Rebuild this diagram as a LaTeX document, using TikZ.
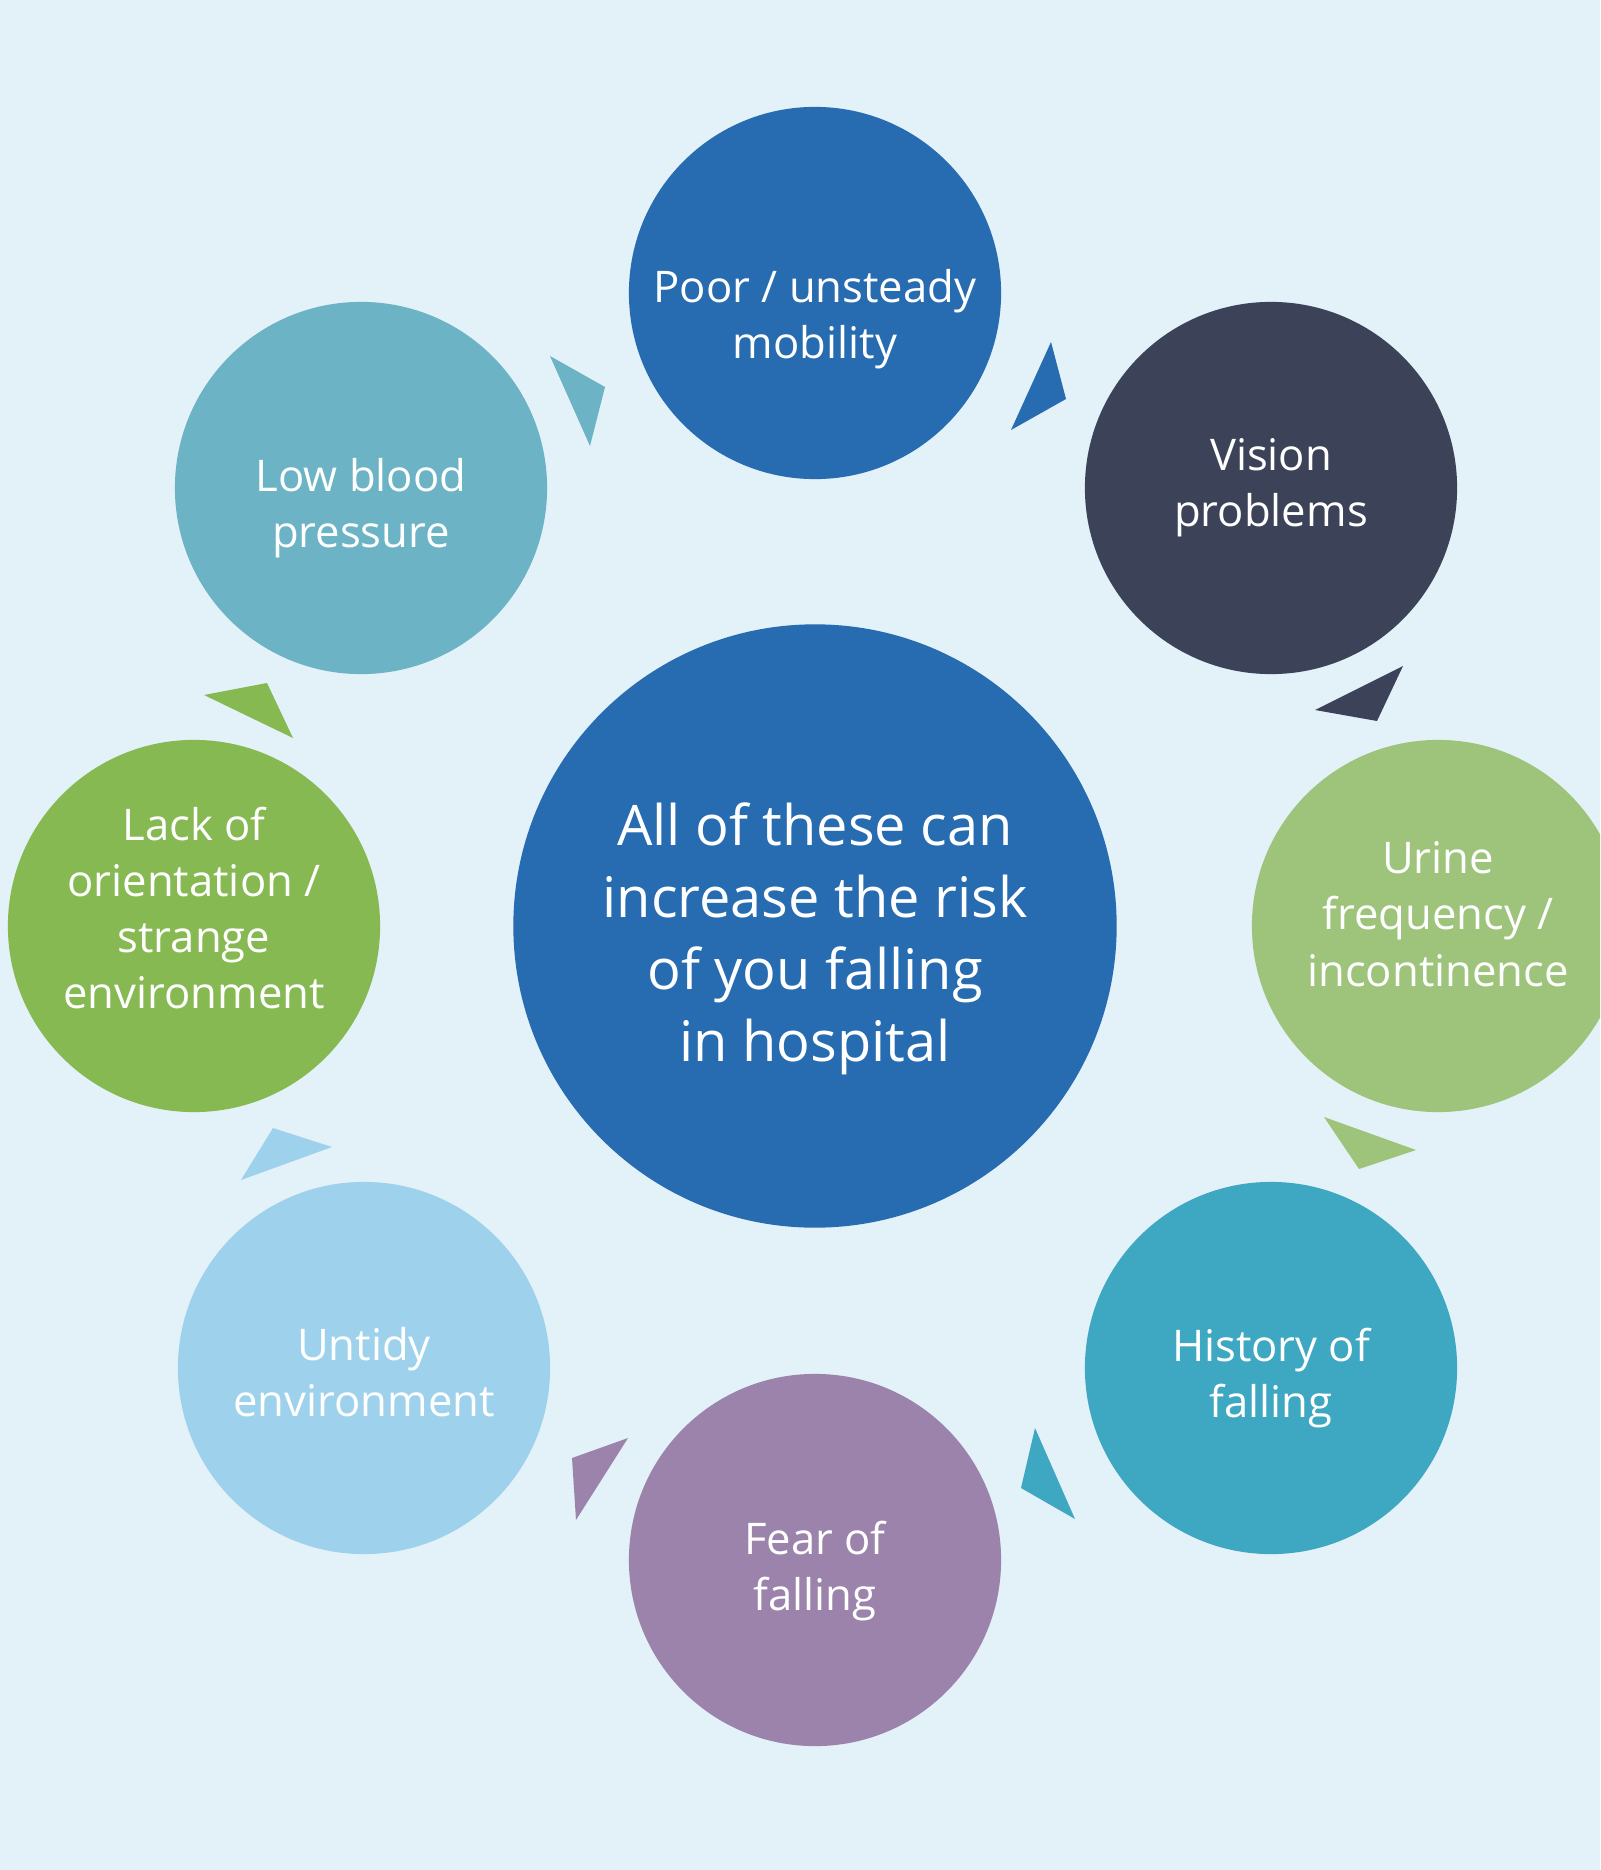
\documentclass[tikz,border=0pt]{standalone}
\usepackage{fontspec}
\setmainfont{Open Sans}
\usepackage{xcolor}
\usetikzlibrary{positioning,shapes}

\definecolor{fond}{RGB}{227,241,249}
\definecolor{bleu}{RGB}{39,107,176}
\definecolor{ardoise}{RGB}{60,66,87}
\definecolor{vertclair}{RGB}{157,196,122}
\definecolor{turquoise}{RGB}{62,167,193}
\definecolor{mauve}{RGB}{155,131,171}
\definecolor{cielclair}{RGB}{158,210,236}
\definecolor{vert}{RGB}{134,185,82}
\definecolor{bleugris}{RGB}{108,180,197}

\begin{document}
\begin{tikzpicture}[x=0.01cm, y=-0.01cm,
    bulle/.style={circle, minimum size=3.72cm, inner sep=0pt},
    texte/.style={text=white, align=center, font=\fontsize{12.4}{16}\selectfont}]
  % Fond
  \useasboundingbox (0,0) rectangle (1600,1870);
  \clip (0,0) rectangle (1600,1870);
  \fill[fond] (0,0) rectangle (1600,1870);

  % Cercle central
  \node[bulle, fill=bleu, minimum size=6.03cm] (centre) at (815,926) {};
  \node[texte, font=\fontsize{15.9}{20.5}\selectfont] (message)
    at ([yshift=-0.13cm]centre) {All of these can\\increase the risk\\of you falling\\in hospital};

  % Facteurs de risque
  \foreach \nom/\x/\y/\coul/\d/\txt in {
      mobilite/815/293/bleu/26/{Poor / unsteady\\mobility},
      vision/1271/488/ardoise/0/{Vision\\problems},
      urine/1438/926/vertclair/-12/{Urine\\frequency /\\incontinence},
      historique/1271/1368/turquoise/10/{History of\\falling},
      peur/815/1560/mauve/11/{Fear of\\falling},
      desordre/364/1368/cielclair/4/{Untidy\\environment},
      orientation/194/926/vert/-18/{Lack of\\orientation /\\strange\\environment},
      tension/361/488/bleugris/20/{Low blood\\pressure}} {
    \node[bulle, fill=\coul] (\nom) at (\x,\y) {};
    \node[texte] (\nom-txt) at ([yshift=-\d*0.01cm]\nom) {\txt};
  }

  % Fleches triangulaires
  \foreach \coul/\a/\b/\c in {
      bleu/{1051,342}/{1066,399}/{1011,430},
      ardoise/{1403,666}/{1377,721}/{1315,710},
      vertclair/{1324,1117}/{1416,1150}/{1359,1169},
      turquoise/{1035,1428}/{1075,1519}/{1021,1488},
      mauve/{628,1438}/{572,1458}/{576,1520},
      cielclair/{273,1128}/{332,1147}/{241,1180},
      vert/{267,683}/{293,738}/{204,695},
      bleugris/{550,356}/{605,387}/{590,446}} {
    \fill[\coul] (\a) -- (\b) -- (\c) -- cycle;
  }
\end{tikzpicture}
\end{document}
